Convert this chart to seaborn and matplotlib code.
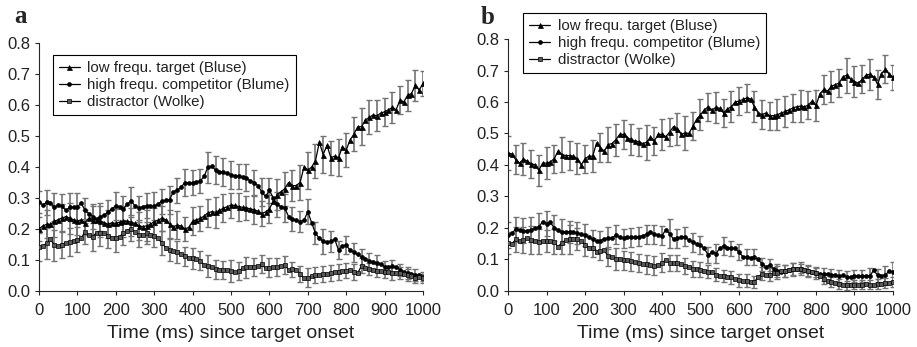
import numpy as np
import matplotlib
matplotlib.use("Agg")
import matplotlib.pyplot as plt
from matplotlib.ticker import FormatStrFormatter
import seaborn as sns

# time bins (ms), one point every 10 ms; error bars on every second point
time_ms = np.arange(0, 1001, 10)

series_labels = ['low frequ. target (Bluse)',
                 'high frequ. competitor (Blume)',
                 'distractor (Wolke)']

# ---- panel a ----
target_a = [
    0.200, 0.210, 0.215, 0.215, 0.225, 0.230, 0.235, 0.240, 0.235, 0.230,
    0.225, 0.230, 0.220, 0.235, 0.230, 0.230, 0.225, 0.220, 0.215, 0.220,
    0.218, 0.222, 0.225, 0.225, 0.222, 0.218, 0.210, 0.208, 0.210, 0.215,
    0.224, 0.228, 0.235, 0.230, 0.215, 0.208, 0.212, 0.210, 0.200, 0.205,
    0.225, 0.230, 0.234, 0.242, 0.252, 0.256, 0.254, 0.260, 0.267, 0.272,
    0.277, 0.276, 0.272, 0.270, 0.268, 0.265, 0.262, 0.258, 0.250, 0.255,
    0.265, 0.290, 0.310, 0.320, 0.330, 0.350, 0.340, 0.340, 0.350, 0.400,
    0.390, 0.400, 0.420, 0.480, 0.440, 0.470, 0.430, 0.435, 0.430, 0.465,
    0.455, 0.487, 0.506, 0.530, 0.530, 0.552, 0.560, 0.568, 0.565, 0.574,
    0.578, 0.585, 0.592, 0.585, 0.616, 0.610, 0.632, 0.637, 0.664, 0.648,
    0.670]
competitor_a = [
    0.288, 0.277, 0.286, 0.285, 0.270, 0.277, 0.274, 0.260, 0.270, 0.270,
    0.272, 0.283, 0.260, 0.250, 0.240, 0.232, 0.240, 0.245, 0.255, 0.265,
    0.275, 0.270, 0.265, 0.280, 0.290, 0.275, 0.268, 0.272, 0.275, 0.273,
    0.275, 0.280, 0.290, 0.292, 0.295, 0.320, 0.325, 0.335, 0.350, 0.348,
    0.350, 0.352, 0.355, 0.370, 0.400, 0.402, 0.390, 0.385, 0.383, 0.380,
    0.375, 0.372, 0.370, 0.368, 0.366, 0.355, 0.350, 0.340, 0.320, 0.305,
    0.325, 0.300, 0.280, 0.272, 0.268, 0.240, 0.232, 0.228, 0.224, 0.228,
    0.256, 0.220, 0.186, 0.170, 0.160, 0.158, 0.160, 0.167, 0.132, 0.145,
    0.148, 0.132, 0.125, 0.118, 0.110, 0.102, 0.097, 0.095, 0.090, 0.088,
    0.078, 0.078, 0.080, 0.078, 0.068, 0.062, 0.058, 0.055, 0.052, 0.050,
    0.046]
distractor_a = [
    0.143, 0.145, 0.154, 0.167, 0.148, 0.145, 0.150, 0.155, 0.159, 0.162,
    0.165, 0.170, 0.191, 0.180, 0.175, 0.188, 0.186, 0.186, 0.178, 0.172,
    0.170, 0.175, 0.188, 0.195, 0.200, 0.190, 0.182, 0.180, 0.186, 0.182,
    0.178, 0.170, 0.155, 0.140, 0.132, 0.128, 0.125, 0.120, 0.112, 0.108,
    0.105, 0.102, 0.098, 0.084, 0.080, 0.076, 0.070, 0.068, 0.068, 0.068,
    0.064, 0.060, 0.065, 0.073, 0.076, 0.078, 0.078, 0.080, 0.087, 0.073,
    0.075, 0.077, 0.078, 0.080, 0.084, 0.068, 0.070, 0.068, 0.055, 0.041,
    0.043, 0.048, 0.052, 0.053, 0.055, 0.054, 0.058, 0.060, 0.062, 0.064,
    0.066, 0.068, 0.062, 0.057, 0.082, 0.073, 0.070, 0.068, 0.066, 0.063,
    0.062, 0.060, 0.057, 0.058, 0.058, 0.054, 0.052, 0.047, 0.041, 0.046,
    0.041]

target_a_err = [
    0.040, 0.045, 0.050, 0.045, 0.050, 0.045, 0.040, 0.045, 0.050, 0.045,
    0.045, 0.050, 0.045, 0.045, 0.050, 0.045, 0.040, 0.045, 0.045, 0.040,
    0.045, 0.040, 0.045, 0.050, 0.045, 0.040, 0.045, 0.040, 0.045, 0.040,
    0.045, 0.050, 0.055, 0.050, 0.055, 0.060, 0.055, 0.060, 0.055, 0.060,
    0.055, 0.055, 0.060, 0.055, 0.050, 0.045, 0.050, 0.045, 0.050, 0.050,
    0.040]
competitor_a_err = [
    0.035, 0.040, 0.045, 0.040, 0.045, 0.045, 0.040, 0.040, 0.045, 0.040,
    0.045, 0.040, 0.045, 0.040, 0.040, 0.045, 0.040, 0.045, 0.040, 0.045,
    0.040, 0.040, 0.050, 0.045, 0.045, 0.045, 0.040, 0.045, 0.040, 0.045,
    0.040, 0.040, 0.045, 0.040, 0.035, 0.040, 0.035, 0.040, 0.035, 0.030,
    0.030, 0.030, 0.025, 0.025, 0.025, 0.020, 0.020, 0.020, 0.020, 0.020,
    0.015]
distractor_a_err = [
    0.045, 0.050, 0.050, 0.045, 0.045, 0.040, 0.040, 0.045, 0.040, 0.040,
    0.045, 0.040, 0.040, 0.040, 0.035, 0.035, 0.040, 0.035, 0.035, 0.030,
    0.035, 0.030, 0.035, 0.030, 0.030, 0.035, 0.030, 0.035, 0.030, 0.030,
    0.030, 0.030, 0.030, 0.025, 0.025, 0.030, 0.025, 0.025, 0.025, 0.025,
    0.025, 0.025, 0.025, 0.020, 0.020, 0.020, 0.020, 0.020, 0.020, 0.015,
    0.015]

# ---- panel b ----
target_b = [
    0.438, 0.435, 0.417, 0.406, 0.419, 0.412, 0.404, 0.401, 0.383, 0.406,
    0.406, 0.410, 0.420, 0.444, 0.433, 0.430, 0.430, 0.428, 0.420, 0.400,
    0.420, 0.428, 0.428, 0.470, 0.455, 0.444, 0.465, 0.468, 0.480, 0.497,
    0.497, 0.486, 0.481, 0.476, 0.474, 0.468, 0.472, 0.488, 0.476, 0.497,
    0.497, 0.490, 0.505, 0.522, 0.515, 0.497, 0.502, 0.500, 0.523, 0.545,
    0.560, 0.575, 0.585, 0.575, 0.583, 0.580, 0.565, 0.578, 0.585, 0.600,
    0.603, 0.608, 0.613, 0.610, 0.585, 0.565, 0.560, 0.565, 0.555, 0.557,
    0.560, 0.565, 0.570, 0.575, 0.581, 0.585, 0.587, 0.585, 0.590, 0.603,
    0.589, 0.625, 0.640, 0.635, 0.650, 0.655, 0.660, 0.680, 0.685, 0.672,
    0.665, 0.660, 0.672, 0.685, 0.688, 0.680, 0.656, 0.690, 0.704, 0.688,
    0.678]
competitor_b = [
    0.178, 0.183, 0.196, 0.194, 0.191, 0.192, 0.195, 0.199, 0.204, 0.220,
    0.214, 0.218, 0.200, 0.194, 0.188, 0.188, 0.188, 0.188, 0.183, 0.180,
    0.178, 0.170, 0.164, 0.160, 0.160, 0.166, 0.168, 0.167, 0.178, 0.170,
    0.168, 0.170, 0.170, 0.170, 0.172, 0.176, 0.180, 0.188, 0.180, 0.178,
    0.176, 0.194, 0.182, 0.164, 0.167, 0.172, 0.172, 0.162, 0.155, 0.150,
    0.146, 0.135, 0.114, 0.124, 0.119, 0.135, 0.143, 0.138, 0.135, 0.135,
    0.124, 0.109, 0.107, 0.106, 0.108, 0.100, 0.085, 0.077, 0.082, 0.071,
    0.065, 0.061, 0.064, 0.066, 0.070, 0.071, 0.071, 0.068, 0.064, 0.060,
    0.057, 0.055, 0.053, 0.053, 0.051, 0.050, 0.047, 0.050, 0.045, 0.045,
    0.048, 0.048, 0.047, 0.048, 0.048, 0.066, 0.050, 0.049, 0.050, 0.064,
    0.061]
distractor_b = [
    0.151, 0.149, 0.164, 0.160, 0.162, 0.167, 0.161, 0.160, 0.157, 0.159,
    0.160, 0.159, 0.156, 0.140, 0.153, 0.162, 0.164, 0.164, 0.164, 0.160,
    0.146, 0.138, 0.138, 0.124, 0.127, 0.130, 0.110, 0.109, 0.103, 0.100,
    0.098, 0.097, 0.094, 0.092, 0.089, 0.087, 0.085, 0.083, 0.080, 0.082,
    0.090, 0.098, 0.088, 0.089, 0.088, 0.085, 0.080, 0.076, 0.071, 0.070,
    0.068, 0.065, 0.061, 0.059, 0.052, 0.049, 0.047, 0.045, 0.043, 0.038,
    0.034, 0.032, 0.033, 0.030, 0.029, 0.045, 0.055, 0.050, 0.052, 0.056,
    0.058, 0.064, 0.064, 0.066, 0.069, 0.071, 0.071, 0.068, 0.063, 0.060,
    0.058, 0.047, 0.038, 0.032, 0.029, 0.026, 0.022, 0.020, 0.018, 0.019,
    0.020, 0.019, 0.020, 0.021, 0.020, 0.019, 0.022, 0.021, 0.026, 0.025,
    0.029]

target_b_err = [
    0.055, 0.045, 0.050, 0.045, 0.050, 0.050, 0.045, 0.055, 0.045, 0.050,
    0.045, 0.050, 0.045, 0.055, 0.050, 0.045, 0.050, 0.045, 0.055, 0.045,
    0.050, 0.045, 0.050, 0.055, 0.045, 0.050, 0.045, 0.050, 0.045, 0.050,
    0.045, 0.045, 0.050, 0.045, 0.045, 0.050, 0.050, 0.045, 0.050, 0.045,
    0.050, 0.045, 0.050, 0.045, 0.055, 0.050, 0.045, 0.050, 0.045, 0.045,
    0.040]
competitor_b_err = [
    0.040, 0.040, 0.040, 0.040, 0.045, 0.040, 0.040, 0.040, 0.035, 0.035,
    0.035, 0.030, 0.030, 0.035, 0.030, 0.030, 0.030, 0.030, 0.030, 0.030,
    0.030, 0.045, 0.030, 0.030, 0.030, 0.030, 0.025, 0.030, 0.030, 0.025,
    0.025, 0.025, 0.025, 0.020, 0.020, 0.020, 0.020, 0.020, 0.020, 0.020,
    0.020, 0.020, 0.020, 0.020, 0.020, 0.020, 0.020, 0.025, 0.020, 0.030,
    0.030]
distractor_b_err = [
    0.035, 0.040, 0.040, 0.045, 0.040, 0.035, 0.040, 0.035, 0.045, 0.035,
    0.035, 0.030, 0.030, 0.030, 0.035, 0.030, 0.030, 0.030, 0.030, 0.030,
    0.030, 0.025, 0.025, 0.025, 0.025, 0.025, 0.020, 0.020, 0.020, 0.020,
    0.020, 0.020, 0.020, 0.020, 0.020, 0.020, 0.020, 0.020, 0.015, 0.015,
    0.015, 0.015, 0.015, 0.015, 0.015, 0.015, 0.015, 0.015, 0.015, 0.015,
    0.015]

x_ticks = list(range(0, 1001, 100))
y_ticks = [0.0, 0.1, 0.2, 0.3, 0.4, 0.5, 0.6, 0.7, 0.8]

sns.set_style("ticks")
plt.rcParams['font.family'] = ['Liberation Sans', 'DejaVu Sans']

markers = [dict(marker='^', markersize=3.6, markerfacecolor='black'),
           dict(marker='o', markersize=2.8, markerfacecolor='black'),
           dict(marker='s', markersize=3.0, markerfacecolor='0.35')]


def draw_panel(ax, values, errors, letter_pos, letter, leg_anchor):
    for vals, err, lab, mk in zip(values, errors, series_labels, markers):
        vals = np.array(vals)
        eb = ax.errorbar(time_ms[::2], vals[::2], yerr=err, fmt='none',
                         ecolor='0.45', elinewidth=1.2, capsize=2.4,
                         capthick=1.0, zorder=1)
        for cap in eb[1]:
            cap.set_color('black')
        sns.lineplot(x=time_ms, y=vals, ax=ax, color='black', linewidth=0.9,
                     markeredgecolor='black', markeredgewidth=0.5,
                     label=lab, zorder=3, **mk)

    ax.set_xlim(0, 1000)
    ax.set_ylim(0, 0.8)
    ax.set_xticks(x_ticks)
    ax.set_yticks(y_ticks)
    ax.yaxis.set_major_formatter(FormatStrFormatter('%.1f'))
    ax.tick_params(direction='out', length=3, width=0.8, labelsize=12,
                   labelcolor='#222222')
    ax.tick_params(axis='x', pad=6)
    ax.tick_params(axis='y', pad=3)
    for sp in ['left', 'bottom']:
        ax.spines[sp].set_linewidth(0.8)
    sns.despine(ax=ax)
    ax.set_xlabel('Time (ms) since target onset', fontsize=14,
                  color='#222222', labelpad=5)
    ax.set_ylabel('')

    leg = ax.legend(loc='upper left', bbox_to_anchor=leg_anchor,
                    frameon=True, fancybox=False, edgecolor='black',
                    framealpha=1, fontsize=10.8, handlelength=1.4,
                    handletextpad=0.5, labelspacing=0.2, borderpad=0.4,
                    borderaxespad=0)
    leg.get_frame().set_linewidth(0.8)
    for t in leg.get_texts():
        t.set_color('#222222')

    fig.text(letter_pos[0], letter_pos[1], letter, fontsize=18,
             fontweight='bold', family=['Liberation Serif', 'DejaVu Serif'],
             ha='center', va='center')


fig = plt.figure(figsize=(9.17, 3.47), dpi=100)
ax_a = fig.add_axes([0.0425, 0.1614, 0.4188, 0.7146])
ax_b = fig.add_axes([0.554, 0.1614, 0.4198, 0.7262])

draw_panel(ax_a, [target_a, competitor_a, distractor_a],
           [target_a_err, competitor_a_err, distractor_a_err],
           (0.022, 0.952), 'a', (0.036, 0.952))
draw_panel(ax_b, [target_b, competitor_b, distractor_b],
           [target_b_err, competitor_b_err, distractor_b_err],
           (0.532, 0.950), 'b', (0.039, 1.103))

fig.savefig('out.png', dpi=100)
